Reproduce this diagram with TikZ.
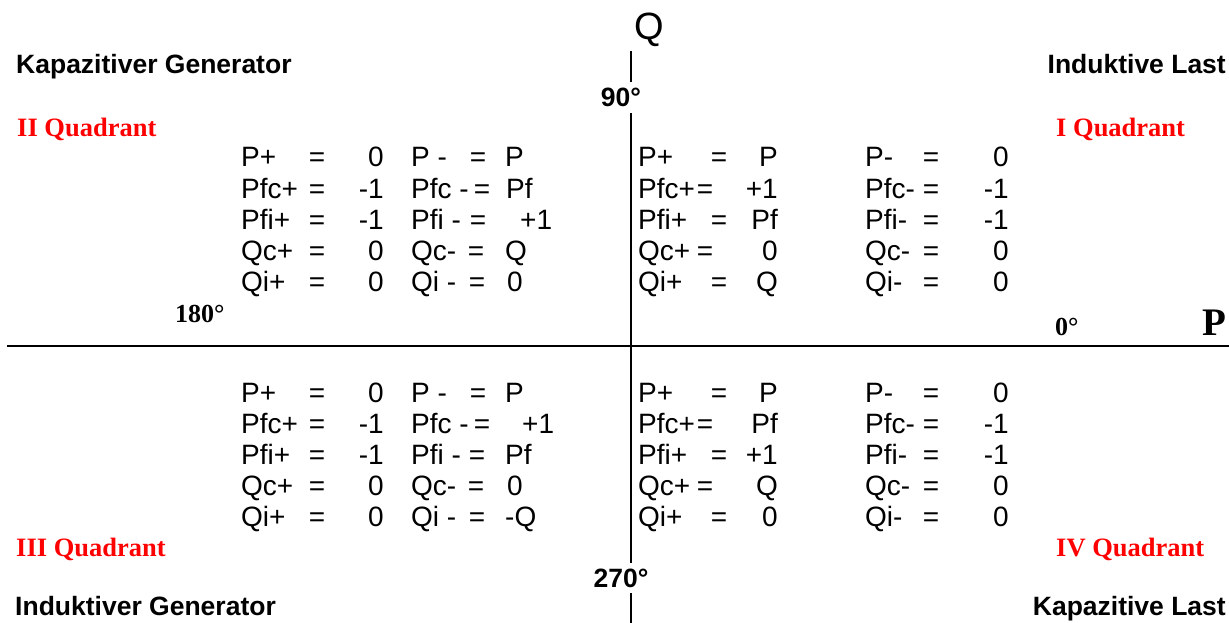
\documentclass[tikz,border=0pt]{standalone}
\usepackage{fontspec}
\setmainfont{Liberation Serif}
\newfontfamily\arialfont{Liberation Sans}
\newfontfamily\timesfont{Liberation Serif}

\newcommand{\tabfont}{\arialfont\fontsize{28}{32}\selectfont}
\newcommand{\headfont}{\arialfont\bfseries\fontsize{26.5}{30}\selectfont}
\newcommand{\quadfont}{\timesfont\bfseries\fontsize{26.5}{30}\selectfont}
\newcommand{\degfont}{\timesfont\bfseries\fontsize{26}{30}\selectfont}
\newcommand{\qfont}{\arialfont\fontsize{38}{42}\selectfont}
\newcommand{\pfont}{\timesfont\bfseries\fontsize{39}{44}\selectfont}

\tikzset{
    cell/.style={font=\tabfont, inner sep=0pt, anchor=base west},
    cellval/.style={font=\tabfont, inner sep=0pt, anchor=base east},
    celleq/.style={font=\tabfont, inner sep=0pt, anchor=base},
    headlabel/.style={font=\headfont, inner sep=0pt},
    quadlabel/.style={font=\quadfont, text=red, inner sep=0pt, anchor=base west},
    deglabel/.style={font=\degfont, inner sep=0pt, anchor=base west},
    degbox/.style={font=\headfont, fill=white, inner xsep=2pt, inner ysep=6pt, anchor=base},
    axisline/.style={black, line width=2.5pt}
}

\begin{document}
\begin{tikzpicture}[x=1pt,y=-1pt]
        \useasboundingbox (0,0) rectangle (1229,623);

        % axes
        \coordinate (qtop) at (631,51);
        \coordinate (qbot) at (631,623);
        \coordinate (pleft) at (7,346);
        \coordinate (pright) at (1229,346);
        \draw[axisline] (qtop) -- (qbot);
        \draw[axisline] (pleft) -- (pright);

        \node[font=\qfont, inner sep=0pt, anchor=base] (qname) at (649,40) {Q};
        \node[font=\pfont, inner sep=0pt, anchor=base east] (pname) at (1227,335) {P};

        \node[degbox] (deg90) at (621,107) {90°};
        \node[degbox] (deg270) at (621,587) {270°};
        \node[deglabel] (deg180) at (175,322) {180°};
        \node[deglabel] (deg0) at (1055,335) {0°};

        % corner labels
        \node[headlabel, anchor=base west] (kapgen) at (16,74) {Kapazitiver Generator};
        \node[headlabel, anchor=base east] (indlast) at (1226,74) {Induktive Last};
        \node[headlabel, anchor=base west] (indgen) at (15,615) {Induktiver Generator};
        \node[headlabel, anchor=base east] (kaplast) at (1226,615) {Kapazitive Last};

        \node[quadlabel] (quad2) at (17,137) {II Quadrant};
        \node[quadlabel] (quad1) at (1056,137) {I Quadrant};
        \node[quadlabel] (quad3) at (16,556) {III Quadrant};
        \node[quadlabel] (quad4) at (1056,556) {IV Quadrant};

        % quadrant II
        \foreach \y/\na/\va/\nb/\eb/\vb/\xb [count=\i] in {
                167/P+/0/P -/478/P/505,
                198/Pfc+/-1/Pfc -/482/Pf/506,
                229/Pfi+/-1/Pfi -/478/+1/520,
                260/Qc+/0/Qc-/476/Q/505,
                291/Qi+/0/Qi -/477/0/507} {
            \node[cell] (q2na\i) at (241,\y) {\na};
            \node[celleq] (q2ea\i) at (317,\y) {=};
            \node[cellval] (q2va\i) at (384,\y) {\va};
            \node[cell] (q2nb\i) at (411,\y) {\nb};
            \node[celleq] (q2eb\i) at (\eb,\y) {=};
            \node[cell] (q2vb\i) at (\xb,\y) {\vb};
        }

        % quadrant I
        \foreach \y/\na/\ea/\va/\nb/\vb [count=\i] in {
                167/P+/719/P/P-/0,
                198/Pfc+/705/+1/Pfc-/-1,
                229/Pfi+/719/Pf/Pfi-/-1,
                260/Qc+/705/0/Qc-/0,
                291/Qi+/719/Q/Qi-/0} {
            \node[cell] (q1na\i) at (638,\y) {\na};
            \node[celleq] (q1ea\i) at (\ea,\y) {=};
            \node[cellval] (q1va\i) at (778,\y) {\va};
            \node[cell] (q1nb\i) at (865,\y) {\nb};
            \node[celleq] (q1eb\i) at (931,\y) {=};
            \node[cellval] (q1vb\i) at (1009,\y) {\vb};
        }

        % quadrant III
        \foreach \y/\na/\va/\nb/\eb/\vb/\xb [count=\i] in {
                402/P+/0/P -/478/P/505,
                433/Pfc+/-1/Pfc -/482/+1/522,
                464/Pfi+/-1/Pfi -/477/Pf/505,
                495/Qc+/0/Qc-/476/0/507,
                526/Qi+/0/Qi -/477/-Q/505} {
            \node[cell] (q3na\i) at (241,\y) {\na};
            \node[celleq] (q3ea\i) at (317,\y) {=};
            \node[cellval] (q3va\i) at (384,\y) {\va};
            \node[cell] (q3nb\i) at (411,\y) {\nb};
            \node[celleq] (q3eb\i) at (\eb,\y) {=};
            \node[cell] (q3vb\i) at (\xb,\y) {\vb};
        }

        % quadrant IV
        \foreach \y/\na/\ea/\va/\nb/\vb [count=\i] in {
                402/P+/719/P/P-/0,
                433/Pfc+/705/Pf/Pfc-/-1,
                464/Pfi+/719/+1/Pfi-/-1,
                495/Qc+/705/Q/Qc-/0,
                526/Qi+/719/0/Qi-/0} {
            \node[cell] (q4na\i) at (638,\y) {\na};
            \node[celleq] (q4ea\i) at (\ea,\y) {=};
            \node[cellval] (q4va\i) at (778,\y) {\va};
            \node[cell] (q4nb\i) at (865,\y) {\nb};
            \node[celleq] (q4eb\i) at (931,\y) {=};
            \node[cellval] (q4vb\i) at (1009,\y) {\vb};
        }
\end{tikzpicture}
\end{document}
